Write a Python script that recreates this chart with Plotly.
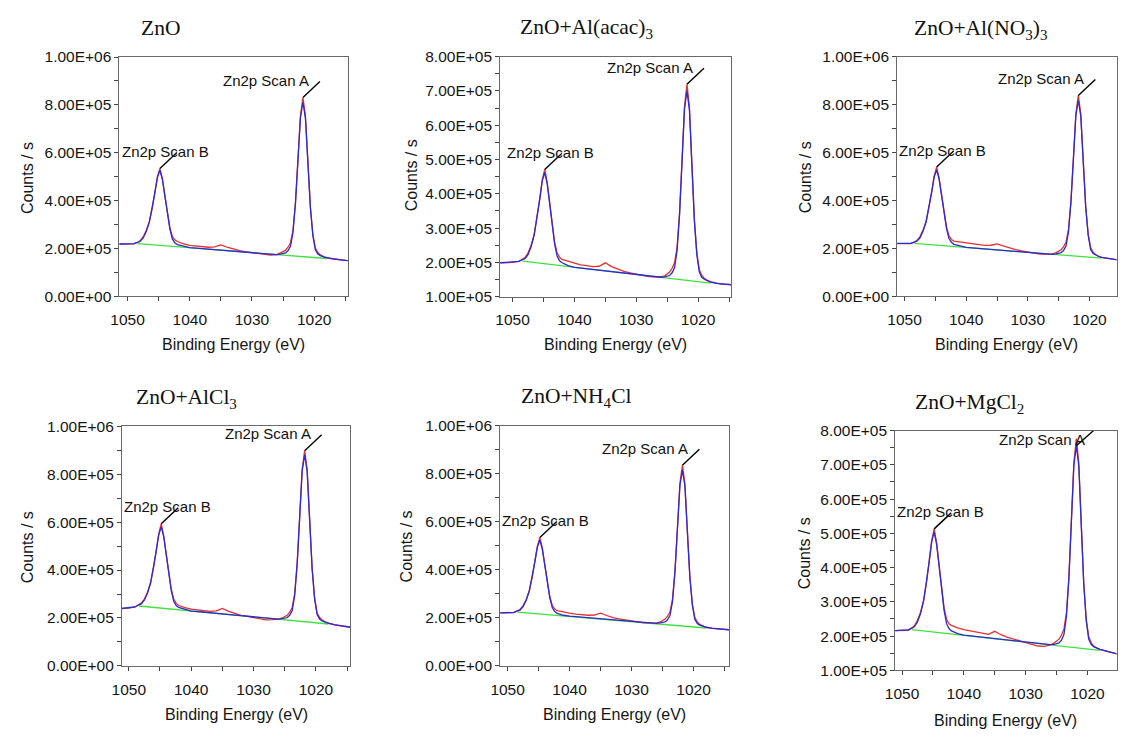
import plotly.graph_objects as go

# ---------------- data (counts/s in thousands) ----------------
energy = [1052.2, 1050, 1049, 1048.4, 1048, 1047.5, 1047, 1046.5, 1046, 1045.6,
          1045.2, 1044.8, 1044.4, 1044, 1043.6, 1043.2, 1042.8, 1042.4, 1042, 1041.5,
          1041, 1040, 1039, 1038, 1037, 1036, 1035, 1034, 1033, 1032,
          1031, 1030, 1029, 1028, 1027, 1026, 1025.4, 1025, 1024.6, 1024.2,
          1023.8, 1023.4, 1023, 1022.6, 1022.2, 1021.8, 1021.4, 1021, 1020.6, 1020.2,
          1019.8, 1019.4, 1019, 1018.5, 1018, 1017, 1016, 1015, 1014]

bg_energy = [1048.4, 1018]

blue_zno = [218, 219, 220, 225, 229, 243, 271, 310, 372, 434,
            496, 527, 488, 421, 348, 282, 240, 224, 216, 212,
            208, 203, 201, 199, 197, 195, 193, 191, 189, 187,
            185, 183, 180, 178, 176, 174, 176, 179, 181, 190,
            209, 266, 388, 567, 747, 811, 745, 558, 370, 253,
            194, 177, 170, 165, 161, 156, 153, 150, 148]
red_zno = [218, 220, 219, 226, 232, 248, 275, 312, 372, 436,
           500, 534, 492, 421, 350, 288, 250, 236, 229, 224,
           219, 213, 210, 208, 205, 207, 215, 205, 197, 191,
           186, 182, 177, 173, 172, 174, 180, 187, 193, 205,
           224, 276, 393, 571, 755, 831, 755, 562, 373, 258,
           202, 183, 173, 166, 161, 157, 152, 150, 148]
green_zno = [220, 158]

blue_acac = [199, 201, 203, 208, 211, 223, 246, 280, 332, 384,
             437, 462, 430, 373, 311, 254, 219, 205, 199, 195,
             191, 186, 184, 182, 180, 178, 176, 174, 172, 170,
             168, 165, 163, 161, 159, 157, 158, 160, 162, 170,
             185, 234, 338, 492, 646, 700, 644, 483, 322, 222,
             172, 157, 151, 147, 143, 139, 137, 136, 134]
red_acac = [199, 200, 203, 209, 214, 227, 250, 282, 333, 386,
            441, 471, 434, 374, 313, 259, 228, 215, 209, 206,
            203, 197, 193, 191, 188, 189, 199, 188, 180, 174,
            170, 166, 162, 159, 158, 158, 161, 166, 172, 183,
            199, 244, 343, 496, 654, 719, 654, 487, 325, 227,
            179, 162, 154, 148, 144, 140, 136, 136, 133]
green_acac = [204, 140]

blue_no3 = [221, 220, 221, 226, 230, 244, 272, 311, 373, 435,
            497, 527, 489, 422, 349, 283, 241, 225, 217, 213,
            209, 204, 202, 200, 198, 196, 194, 192, 190, 188,
            186, 184, 181, 179, 177, 175, 177, 180, 182, 191,
            210, 268, 391, 571, 753, 817, 751, 562, 372, 255,
            195, 178, 171, 166, 162, 157, 154, 151, 149]
red_no3 = [220, 221, 220, 227, 233, 249, 276, 313, 374, 437,
           502, 539, 494, 423, 352, 290, 252, 237, 230, 228,
           226, 222, 218, 215, 212, 213, 219, 210, 201, 195,
           189, 185, 180, 176, 176, 177, 182, 188, 194, 206,
           225, 278, 396, 575, 761, 838, 761, 566, 375, 260,
           203, 184, 174, 167, 162, 158, 153, 151, 149]
green_no3 = [221, 159]

blue_alcl3 = [237, 242, 246, 255, 259, 275, 304, 347, 414, 480,
              547, 580, 538, 466, 387, 315, 270, 252, 244, 240,
              235, 229, 227, 224, 222, 219, 217, 214, 212, 210,
              207, 205, 202, 200, 197, 195, 197, 199, 202, 211,
              231, 293, 424, 618, 813, 881, 811, 608, 404, 278,
              214, 196, 188, 183, 178, 171, 167, 164, 160]
red_alcl3 = [237, 241, 246, 256, 262, 279, 307, 349, 414, 482,
             551, 593, 543, 467, 389, 321, 279, 261, 252, 247,
             243, 237, 234, 231, 228, 230, 240, 228, 218, 211,
             207, 203, 197, 192, 193, 195, 200, 205, 211, 224,
             244, 302, 429, 622, 820, 898, 820, 612, 407, 283,
             221, 202, 191, 184, 178, 172, 167, 163, 160]
green_alcl3 = [250, 175]

blue_nh4cl = [220, 221, 223, 229, 232, 247, 273, 312, 373, 434,
              494, 524, 486, 421, 349, 284, 243, 226, 219, 215,
              211, 207, 205, 203, 201, 199, 197, 195, 193, 191,
              189, 187, 184, 182, 180, 177, 179, 181, 183, 192,
              210, 268, 390, 571, 751, 815, 750, 560, 371, 254,
              194, 177, 170, 166, 161, 156, 154, 152, 150]
red_nh4cl = [220, 222, 222, 230, 235, 251, 276, 314, 373, 436,
             498, 535, 490, 422, 351, 290, 253, 237, 230, 227,
             224, 220, 216, 213, 211, 212, 220, 210, 201, 196,
             191, 188, 183, 179, 179, 178, 183, 189, 195, 207,
             225, 278, 395, 575, 759, 835, 760, 564, 374, 259,
             202, 183, 173, 167, 161, 157, 153, 152, 150]
green_nh4cl = [224, 158]

blue_mgcl2 = [215, 216, 218, 223, 227, 241, 266, 303, 360, 418,
              475, 504, 468, 406, 338, 276, 237, 222, 215, 211,
              207, 203, 201, 199, 197, 195, 193, 191, 189, 187,
              185, 183, 181, 179, 177, 175, 176, 178, 180, 188,
              205, 258, 369, 533, 698, 756, 696, 524, 352, 245,
              191, 176, 169, 165, 161, 156, 152, 147, 143]
red_mgcl2 = [215, 217, 217, 224, 230, 246, 270, 305, 360, 420,
             479, 513, 472, 407, 341, 283, 249, 236, 231, 227,
             224, 219, 216, 212, 208, 205, 214, 204, 197, 191,
             186, 181, 176, 171, 170, 174, 180, 185, 191, 203,
             221, 268, 374, 538, 706, 777, 706, 528, 355, 250,
             198, 181, 171, 166, 161, 157, 151, 147, 143]
green_mgcl2 = [219, 158]

x_tickvals = [1050, 1040, 1030, 1020]
x_ticktext = ["1050", "1040", "1030", "1020"]
x_minorvals = [1045, 1035, 1025, 1015]

y_tickvals_a = [0, 200, 400, 600, 800, 1000]
y_ticktext_a = ["0.00E+00", "2.00E+05", "4.00E+05", "6.00E+05", "8.00E+05", "1.00E+06"]
y_minorvals_a = [100, 300, 500, 700, 900]
y_tickvals_b = [100, 200, 300, 400, 500, 600, 700, 800]
y_ticktext_b = ["1.00E+05", "2.00E+05", "3.00E+05", "4.00E+05",
                "5.00E+05", "6.00E+05", "7.00E+05", "8.00E+05"]
y_minorvals_b = [150, 250, 350, 450, 550, 650, 750]

titles = ["ZnO", "ZnO+Al(acac)<sub>3</sub>", "ZnO+Al(NO<sub>3</sub>)<sub>3</sub>",
          "ZnO+AlCl<sub>3</sub>", "ZnO+NH<sub>4</sub>Cl", "ZnO+MgCl<sub>2</sub>"]

# ---------------- layout geometry (page pixels) ----------------
PAGE_W, PAGE_H = 1126, 742
OFF = 8                      # default body margin of the html page
W, H = PAGE_W - 2 * OFF, PAGE_H - 2 * OFF


def fx(px):
    return (px - OFF) / W


def fy(py):
    return 1 - (py - OFF) / H


panels = [
    dict(blue=blue_zno, red=red_zno, green=green_zno, box=(110.5, 341, 49, 294),
         xr=[1051.3, 1014.6], yr=[0, 1000], yt=(y_tickvals_a, y_ticktext_a, y_minorvals_a),
         title_xy=(152, 19.5), ytitle_xy=(17, 173), xtitle_y=343, a_lbl=None),
    dict(blue=blue_acac, red=red_acac, green=green_acac, box=(495, 728, 48.5, 294.5),
         xr=[1052.0, 1014.7], yr=[100, 800], yt=(y_tickvals_b, y_ticktext_b, y_minorvals_b),
         title_xy=(582, 19.5), ytitle_xy=(405, 170), xtitle_y=343, a_lbl=None),
    dict(blue=blue_no3, red=red_no3, green=green_no3, box=(896, 1117.5, 48.5, 294),
         xr=[1051.2, 1015.6], yr=[0, 1000], yt=(y_tickvals_a, y_ticktext_a, y_minorvals_a),
         title_xy=(980, 21), ytitle_xy=(803, 172), xtitle_y=343, a_lbl=None),
    dict(blue=blue_alcl3, red=red_alcl3, green=green_alcl3, box=(113, 343.5, 427, 672.5),
         xr=[1051.1, 1014.5], yr=[0, 1000], yt=(y_tickvals_a, y_ticktext_a, y_minorvals_a),
         title_xy=(178, 399), ytitle_xy=(17, 551), xtitle_y=722, a_lbl=None),
    dict(blue=blue_nh4cl, red=red_nh4cl, green=green_nh4cl, box=(495, 726, 426.5, 672.5),
         xr=[1051.2, 1014.3], yr=[0, 1000], yt=(y_tickvals_a, y_ticktext_a, y_minorvals_a),
         title_xy=(572, 398), ytitle_xy=(400, 550), xtitle_y=722, a_lbl=None),
    dict(blue=blue_mgcl2, red=red_mgcl2, green=green_mgcl2, box=(894, 1117.5, 431.5, 677),
         xr=[1051.1, 1015.3], yr=[100, 800], yt=(y_tickvals_b, y_ticktext_b, y_minorvals_b),
         title_xy=(969, 404), ytitle_xy=(802, 557), xtitle_y=728,
         a_lbl=dict(xshift=11, yshift=6)),
]

SANS = "Liberation Sans, Arial, sans-serif"
SERIF = "Liberation Serif, Times New Roman, serif"
RED, BLUE, GREEN = "#e8302c", "#2a2ad8", "#3ee23e"
TICKC = "#444"

fig = go.Figure()
annotations = []
shapes = []
layout_axes = {}

for i, p in enumerate(panels):
    n = "" if i == 0 else str(i + 1)
    xa, ya = "x" + n, "y" + n
    x0, x1, y0, y1 = p["box"]
    fig.add_trace(go.Scatter(x=bg_energy, y=p["green"], mode="lines",
                             line=dict(color=GREEN, width=1.3),
                             xaxis=xa, yaxis=ya, showlegend=False, hoverinfo="skip"))
    fig.add_trace(go.Scatter(x=energy, y=p["red"], mode="lines",
                             line=dict(color=RED, width=1.3),
                             xaxis=xa, yaxis=ya, showlegend=False))
    fig.add_trace(go.Scatter(x=energy, y=p["blue"], mode="lines",
                             line=dict(color=BLUE, width=1.3),
                             xaxis=xa, yaxis=ya, showlegend=False))

    xdom = [fx(x0), fx(x1)]
    ydom = [fy(y1), fy(y0)]
    axis_common = dict(showline=True, linecolor="#6a6a6a", linewidth=1, mirror=True,
                       showgrid=False, zeroline=False, ticks="outside", ticklen=4,
                       tickcolor=TICKC, tickmode="array",
                       tickfont=dict(family=SANS, size=15.5, color="#151515"))
    layout_axes["xaxis" + n] = dict(axis_common, domain=xdom, range=p["xr"],
                                    tickvals=x_tickvals, ticktext=x_ticktext, anchor=ya,
                                    ticklabelstandoff=5,
                                    minor=dict(tickmode="array", tickvals=x_minorvals,
                                               ticks="outside", ticklen=4, tickcolor=TICKC))
    layout_axes["yaxis" + n] = dict(axis_common, domain=ydom, range=p["yr"],
                                    tickvals=p["yt"][0], ticktext=p["yt"][1], anchor=xa,
                                    minor=dict(tickmode="array", tickvals=p["yt"][2],
                                               ticks="outside", ticklen=4, tickcolor=TICKC))
    # overlay axes that add the inner half of the crossing tick marks
    m = str(i + 7)
    layout_axes["xaxis" + m] = dict(overlaying=xa, anchor=ya, side="bottom", domain=xdom,
                                    range=p["xr"], showgrid=False, zeroline=False,
                                    showline=False, showticklabels=False, ticks="inside",
                                    ticklen=3, tickcolor=TICKC, tickmode="array",
                                    tickvals=x_tickvals + x_minorvals)
    layout_axes["yaxis" + m] = dict(overlaying=ya, anchor=xa, side="left", domain=ydom,
                                    range=p["yr"], showgrid=False, zeroline=False,
                                    showline=False, showticklabels=False, ticks="inside",
                                    ticklen=3, tickcolor=TICKC, tickmode="array",
                                    tickvals=p["yt"][0] + p["yt"][2])

    # titles and axis titles
    tx, ty = p["title_xy"]
    annotations.append(dict(text=titles[i], x=fx(tx), y=fy(ty), xref="paper", yref="paper",
                            xanchor="center", yanchor="middle", showarrow=False,
                            font=dict(family=SERIF, size=21.5, color="#111")))
    yx, yy = p["ytitle_xy"]
    annotations.append(dict(text="Counts / s", x=fx(yx), y=fy(yy), xref="paper", yref="paper",
                            xanchor="center", yanchor="middle", showarrow=False, textangle=-90,
                            font=dict(family=SANS, size=16, color="#151515")))
    annotations.append(dict(text="Binding Energy (eV)", x=fx((x0 + x1) / 2), y=fy(p["xtitle_y"]),
                            xref="paper", yref="paper", xanchor="center", yanchor="middle",
                            showarrow=False, font=dict(family=SANS, size=16, color="#151515")))

    # peak labels with leader lines, anchored at the data maxima
    red, blue = p["red"], p["blue"]
    ia = max((k for k in range(len(energy)) if energy[k] < 1033), key=lambda k: red[k])
    ib = max((k for k in range(len(energy)) if energy[k] > 1033), key=lambda k: red[k])
    specs = [(ia, red[ia], "Zn2p Scan A", "right", 8, 17, 16),
             (ib, red[ib], "Zn2p Scan B", "center", 6, 17, 16)]
    if p["a_lbl"]:
        s = p["a_lbl"]
        specs[0] = (ia, blue[ia], "Zn2p Scan A", "right", s["xshift"], s["yshift"], 15)
    for k, yv, label, anchor, xs, ys, dy in specs:
        shapes.append(dict(type="line", xref=xa, yref=ya, xsizemode="pixel", ysizemode="pixel",
                           xanchor=energy[k], yanchor=yv, x0=0, x1=17, y0=0, y1=dy,
                           line=dict(color="#000", width=1.4)))
        annotations.append(dict(text=label, x=energy[k], y=yv, xref=xa, yref=ya,
                                xanchor=anchor, yanchor="middle", xshift=xs, yshift=ys,
                                showarrow=False, font=dict(family=SANS, size=15, color="#111")))

fig.update_layout(width=W, height=H, autosize=False, margin=dict(l=0, r=0, t=0, b=0),
                  paper_bgcolor="white", plot_bgcolor="white",
                  annotations=annotations, shapes=shapes, showlegend=False, **layout_axes)

fig.write_html("out.html", config={"displayModeBar": False, "responsive": False})
